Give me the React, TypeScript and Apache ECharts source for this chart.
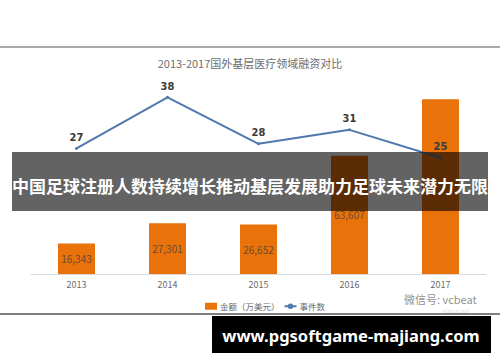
import React, { useEffect, useRef } from "react";
import * as echarts from "echarts";

const years = ["2013", "2014", "2015", "2016", "2017"];
const amounts = [16343, 27301, 26652, 63607, 94000];
const events = [27, 38, 28, 31, 25];
const chartTitle = "2013-2017国外基层医疗领域融资对比";
const amountName = "金额（万美元）";
const eventName = "事件数";
const bannerText = "中国足球注册人数持续增长推动基层发展助力足球未来潜力无限";
const urlText = "www.pgsoftgame-majiang.com";
const watermarkTop = "微信号: vcbeat";
const watermarkBottom = "vcbeat.net";

const CJK = '"Noto Sans CJK SC", "Noto Sans", sans-serif';

export default function App() {
  const ref = useRef<HTMLDivElement>(null);
  useEffect(() => {
    if (!ref.current) return;
    const chart = echarts.init(ref.current, undefined, { renderer: "svg" });
    const barData = amounts.map((v, i) =>
      i === amounts.length - 1 ? { value: v, label: { show: false } } : v
    );
    chart.setOption({
      animation: false,
      backgroundColor: "#ffffff",
      title: {
        text: chartTitle,
        left: "center",
        top: 52,
        textStyle: { fontFamily: CJK, fontSize: 11, fontWeight: "normal", color: "#6e6e6e" },
      },
      legend: {
        left: 200,
        top: 297,
        itemWidth: 12,
        itemHeight: 7,
        itemGap: 4,
        textStyle: { fontFamily: CJK, fontSize: 8.5, color: "#6a6a6a", padding: [0, 0, 0, -2] },
        data: [
          { name: amountName, icon: "rect" },
          { name: eventName },
        ],
      },
      grid: { left: 31, right: 14, top: 88, bottom: 88 },
      xAxis: {
        type: "category",
        data: years,
        axisLine: { lineStyle: { color: "#d9d9d9", width: 1 } },
        axisTick: { show: false },
        axisLabel: { color: "#6a6a6a", fontSize: 9, lineHeight: 9, fontFamily: CJK, margin: 6 },
      },
      yAxis: [
        { type: "value", min: 0, max: 100000, show: false, splitLine: { show: false } },
        { type: "value", min: 0, max: 40, show: false, splitLine: { show: false } },
      ],
      series: [
        {
          name: amountName,
          type: "bar",
          data: barData,
          barWidth: 37,
          yAxisIndex: 0,
          itemStyle: { color: "#e9720b" },
          label: {
            show: true,
            position: "inside",
            color: "#6b4a30",
            fontSize: 10,
            fontFamily: CJK,
            formatter: (p: any) => Number(p.value).toLocaleString("en-US"),
          },
        },
        {
          name: eventName,
          type: "line",
          data: events,
          yAxisIndex: 1,
          symbol: "circle",
          symbolSize: 3,
          lineStyle: { color: "#4f79ad", width: 2 },
          itemStyle: { color: "#4f79ad" },
          label: {
            show: true,
            position: "top",
            distance: 4,
            color: "#3a3a3a",
            fontSize: 11,
            fontWeight: "bold",
            fontFamily: '"Liberation Sans Narrow", "DejaVu Sans Condensed", sans-serif',
          },
        },
      ],
      graphic: [
        { type: "line", z: 100, shape: { x1: 0, y1: 47, x2: 500, y2: 47 }, style: { stroke: "#8c8c8c", lineWidth: 1.5 } },
        { type: "line", z: 100, shape: { x1: 0, y1: 314, x2: 500, y2: 314 }, style: { stroke: "#555555", lineWidth: 1.5 } },
        {
          type: "text", z: 90, x: 404, y: 293.5,
          style: { text: watermarkTop, fontSize: 11, lineHeight: 11, fontFamily: CJK, fill: "#929292" },
        },
        {
          type: "text", z: 89, x: 442, y: 308.5,
          style: { text: watermarkBottom, fontSize: 5.5, lineHeight: 5.5, fontFamily: CJK, fill: "#e2e2e2" },
        },
        {
          type: "rect", z: 100, shape: { x: 12, y: 152, width: 476, height: 59 },
          style: { fill: "rgba(0,0,0,0.61)" },
        },
        {
          type: "text", z: 101, x: 250, y: 185,
          style: {
            text: bannerText, fontSize: 17, fontWeight: "bold", fontFamily: CJK,
            fill: "#ffffff", align: "center", verticalAlign: "middle",
          },
        },
        {
          type: "rect", z: 100, shape: { x: 212, y: 316, width: 279, height: 37 },
          style: { fill: "#000000" },
        },
        {
          type: "text", z: 101, x: 351, y: 335,
          style: {
            text: urlText, fontSize: 16.5, fontWeight: "bold", fontFamily: '"Noto Sans", sans-serif',
            fill: "#ffffff", align: "center", verticalAlign: "middle",
          },
        },
      ],
    });
    return () => chart.dispose();
  }, []);
  return (
    <div
      ref={ref}
      style={{ position: "fixed", left: 0, top: 0, width: 500, height: 362 }}
    />
  );
}
